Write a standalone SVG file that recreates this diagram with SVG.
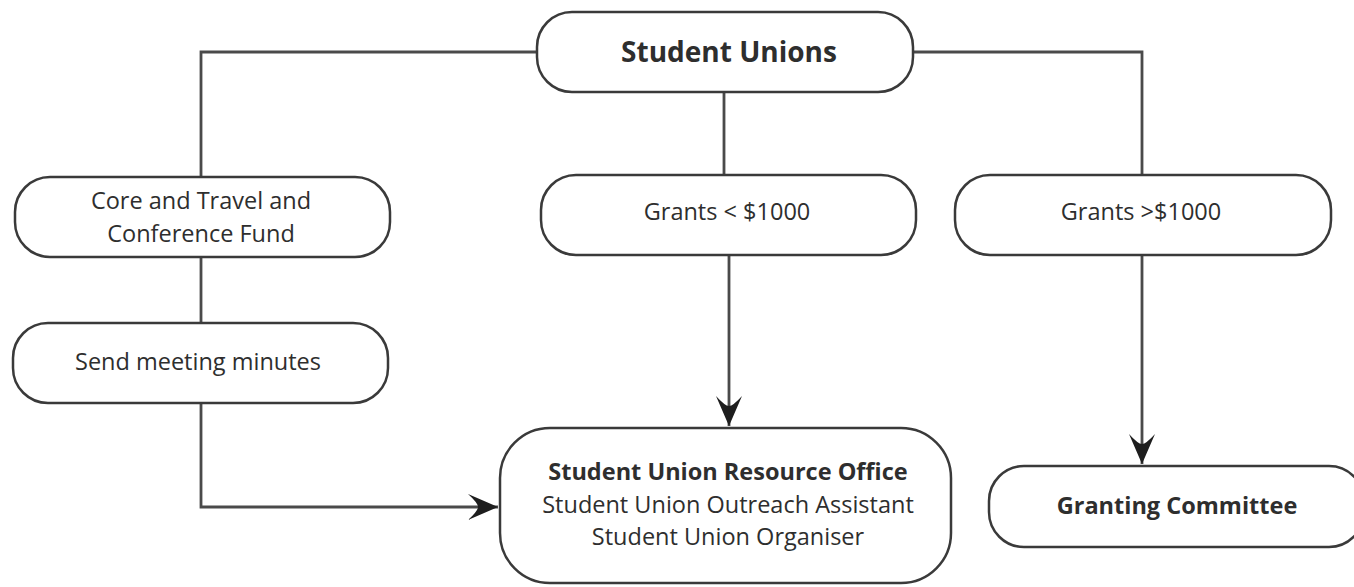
<svg xmlns="http://www.w3.org/2000/svg" width="1354" height="587" viewBox="0 0 1354 587">
<style>
.box{fill:#fff;stroke:#3a3a3a;stroke-width:2.5}
.t{font-family:"Open Sans","Noto Sans",sans-serif;fill:#2e2e2e;text-anchor:middle;font-size:23.5px}
.b{font-weight:bold}
.h{font-size:28px}
.c{fill:none;stroke:#4a4a4a;stroke-width:2.8}
</style>
<defs>
<marker id="ah" markerUnits="userSpaceOnUse" markerWidth="34" markerHeight="28" viewBox="0 0 34 28" refX="32" refY="14" orient="auto">
<path d="M32,14 L2,1 Q12,10 12,14 Q12,18 2,27 Z" fill="#1e1e1e"/>
</marker>
</defs>
<rect width="1354" height="587" fill="#fff"/>
<g id="connectors">
<path class="c" d="M537,52 H201 V177"/>
<path class="c" d="M201,257 V323"/>
<path class="c" d="M201,403 V507 H498" marker-end="url(#ah)"/>
<path class="c" d="M724,92 V175"/>
<path class="c" d="M729,255 V426" marker-end="url(#ah)"/>
<path class="c" d="M913,52 H1142 V175"/>
<path class="c" d="M1142,255 V464" marker-end="url(#ah)"/>
</g>
<g id="student-unions">
<rect class="box" x="537" y="12" width="376" height="80" rx="35"/>
<text class="t b h" x="729" y="62">Student Unions</text>
</g>
<g id="core-fund">
<rect class="box" x="15" y="177" width="375" height="80" rx="35"/>
<text class="t" x="201" y="209">Core and Travel and</text>
<text class="t" x="201" y="242">Conference Fund</text>
</g>
<g id="send-minutes">
<rect class="box" x="13" y="323" width="375" height="80" rx="35"/>
<text class="t" x="198" y="370">Send meeting minutes</text>
</g>
<g id="grants-lt">
<rect class="box" x="541" y="175" width="375" height="80" rx="35"/>
<text class="t" x="727" y="220">Grants &lt; $1000</text>
</g>
<g id="grants-gt">
<rect class="box" x="955" y="175" width="376" height="80" rx="35"/>
<text class="t" x="1141" y="220">Grants &gt;$1000</text>
</g>
<g id="resource-office">
<rect class="box" x="500" y="428" width="451" height="155" rx="50"/>
<text class="t b" x="728" y="480">Student Union Resource Office</text>
<text class="t" x="728" y="513">Student Union Outreach Assistant</text>
<text class="t" x="728" y="545">Student Union Organiser</text>
</g>
<g id="granting-committee">
<rect class="box" x="989" y="466" width="375" height="81" rx="35"/>
<text class="t b" x="1177" y="514">Granting Committee</text>
</g>
</svg>
